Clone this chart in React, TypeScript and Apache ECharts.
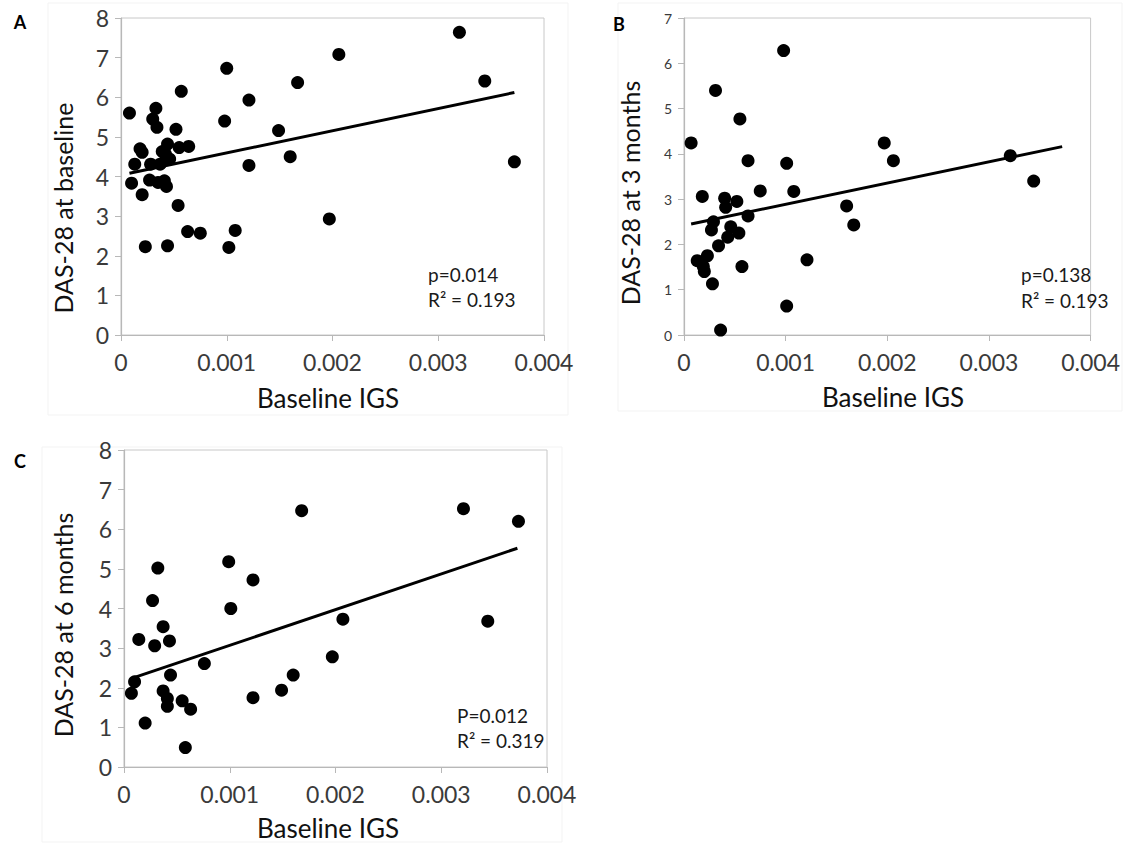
import React, { useEffect, useRef } from "react";
import * as echarts from "echarts";

// Panel A: DAS-28 at baseline vs baseline IGS
const igsA = [0.00008, 0.0001, 0.00013, 0.00018, 0.0002, 0.0002, 0.00023, 0.00027, 0.00028, 0.0003, 0.00033, 0.00034, 0.00035, 0.00041, 0.00043, 0.00037, 0.00039, 0.00044, 0.00042, 0.00046, 0.00052, 0.00044, 0.00054, 0.00055, 0.00057, 0.00064, 0.00063, 0.00075, 0.00098, 0.001, 0.00102, 0.00108, 0.00121, 0.00121, 0.00149, 0.0016, 0.00167, 0.00197, 0.00206, 0.0032, 0.00344, 0.00372];
const dasA = [5.6, 3.83, 4.31, 4.7, 4.61, 3.54, 2.23, 3.91, 4.31, 5.45, 5.72, 5.24, 3.85, 3.89, 3.75, 4.31, 4.63, 4.82, 4.57, 4.44, 5.19, 2.25, 3.27, 4.73, 6.15, 4.76, 2.61, 2.57, 5.4, 6.73, 2.21, 2.64, 5.93, 4.28, 5.16, 4.5, 6.37, 2.93, 7.08, 7.64, 6.41, 4.37];
const trendA = [[0.00008, 4.08], [0.00372, 6.12]];

// Panel B: DAS-28 at 3 months
const igsB = [0.00007, 0.00013, 0.00018, 0.00019, 0.0002, 0.00023, 0.00028, 0.00027, 0.00029, 0.00031, 0.00034, 0.00036, 0.0004, 0.00041, 0.00043, 0.00046, 0.00052, 0.00054, 0.00055, 0.00057, 0.00063, 0.00063, 0.00075, 0.00098, 0.00101, 0.00101, 0.00108, 0.00121, 0.0016, 0.00167, 0.00197, 0.00206, 0.00321, 0.00344];
const dasB = [4.24, 1.64, 3.06, 1.51, 1.4, 1.75, 1.13, 2.32, 2.5, 5.4, 1.97, 0.11, 3.02, 2.82, 2.16, 2.39, 2.95, 2.25, 4.77, 1.51, 2.63, 3.85, 3.18, 6.28, 3.79, 0.64, 3.17, 1.66, 2.85, 2.43, 4.24, 3.85, 3.96, 3.4];
const trendB = [[0.00007, 2.45], [0.00372, 4.16]];

// Panel C: DAS-28 at 6 months
const igsC = [0.00007, 0.0001, 0.00014, 0.0002, 0.00027, 0.00029, 0.00032, 0.00037, 0.00037, 0.00041, 0.00041, 0.00043, 0.00044, 0.00055, 0.00058, 0.00063, 0.00076, 0.00099, 0.00101, 0.00122, 0.00122, 0.00149, 0.0016, 0.00168, 0.00197, 0.00207, 0.00321, 0.00344, 0.00373];
const dasC = [1.86, 2.15, 3.22, 1.11, 4.2, 3.06, 5.02, 3.54, 1.92, 1.73, 1.53, 3.18, 2.32, 1.67, 0.49, 1.46, 2.61, 5.18, 4.0, 1.75, 4.72, 1.94, 2.32, 6.47, 2.78, 3.73, 6.52, 3.68, 6.2];
const trendC = [[0.0001, 2.26], [0.00372, 5.52]];

const panelLetters = ["A", "B", "C"];
const yTitles = ["DAS-28 at baseline", "DAS-28 at 3 months", "DAS-28 at 6 months"];
const xTitle = "Baseline IGS";
const pTexts = ["p=0.014", "p=0.138", "P=0.012"];
const r2Texts = ["R² = 0.193", "R² = 0.193", "R² = 0.319"];
const yMax = [8, 7, 8];

const FONT = "Lato, 'Noto Sans', sans-serif";
const AXIS_COLOR = "#b8b8b8";
const LABEL_COLOR = "#3a3a3a";

const grids = [
  { left: 121, top: 18, width: 423, height: 317 },
  { left: 684, top: 18, width: 422, height: 317 },
  { left: 124, top: 450, width: 423, height: 317 },
];
const xLabelSize = [23, 23, 23];
const yLabelSize = [23, 14, 23];

function zip(xs: number[], ys: number[]) {
  return xs.map((x, i) => [x, ys[i]]);
}

export default function App() {
  const ref = useRef<HTMLDivElement>(null);
  useEffect(() => {
    const chart = echarts.init(ref.current!, null, { renderer: "svg" });
    const scatterData = [zip(igsA, dasA), zip(igsB, dasB), zip(igsC, dasC)];
    const trends = [trendA, trendB, trendC];

    const text = (x: number, y: number, t: string, font: string, extra: any = {}) => ({
      type: "text",
      x,
      y,
      ...extra,
      style: { text: t, font, fill: "#111", textAlign: "center", textVerticalAlign: "middle", ...(extra.style || {}) },
    });

    const option: any = {
      animation: false,
      backgroundColor: "#ffffff",
      grid: grids.map((g) => ({ ...g, show: true, borderColor: "#c8c8c8", borderWidth: 1, backgroundColor: "transparent" })),
      xAxis: grids.map((_, i) => ({
        type: "value",
        gridIndex: i,
        min: 0,
        max: 0.004,
        interval: 0.001,
        axisLine: { show: true, lineStyle: { color: AXIS_COLOR, width: 1.2 } },
        axisTick: { show: true, length: 6, lineStyle: { color: AXIS_COLOR } },
        splitLine: { show: false },
        axisLabel: {
          fontSize: xLabelSize[i],
          fontFamily: FONT,
          color: LABEL_COLOR,
          margin: 15,
          formatter: (v: number) => (v === 0 ? "0" : v.toFixed(3)),
        },
      })),
      yAxis: grids.map((_, i) => ({
        type: "value",
        gridIndex: i,
        min: 0,
        max: yMax[i],
        interval: 1,
        axisLine: { show: true, lineStyle: { color: AXIS_COLOR, width: 1.2 } },
        axisTick: { show: true, length: 6, lineStyle: { color: AXIS_COLOR } },
        splitLine: { show: false },
        axisLabel: {
          fontSize: yLabelSize[i],
          fontFamily: FONT,
          color: LABEL_COLOR,
          margin: 12,
        },
      })),
      series: [
        ...scatterData.map((d, i) => ({
          type: "scatter",
          xAxisIndex: i,
          yAxisIndex: i,
          data: d,
          symbolSize: 13,
          itemStyle: { color: "#000000", opacity: 1 },
          silent: true,
        })),
        ...trends.map((t, i) => ({
          type: "line",
          xAxisIndex: i,
          yAxisIndex: i,
          data: t,
          symbol: "none",
          lineStyle: { color: "#000000", width: 3 },
          silent: true,
          z: 3,
        })),
      ],
      graphic: [
        // faint panel frames
        { type: "rect", shape: { x: 48, y: 3, width: 520, height: 412 }, style: { fill: "none", stroke: "#f3f3f3", lineWidth: 1 }, z: -1 },
        { type: "rect", shape: { x: 618, y: 3, width: 504, height: 408 }, style: { fill: "none", stroke: "#f3f3f3", lineWidth: 1 }, z: -1 },
        { type: "rect", shape: { x: 42, y: 447, width: 520, height: 395 }, style: { fill: "none", stroke: "#f3f3f3", lineWidth: 1 }, z: -1 },
        // panel letters
        text(20, 22, panelLetters[0], `bold 18px ${FONT}`, { style: { fill: "#000" } }),
        text(619, 24, panelLetters[1], `bold 18px ${FONT}`, { style: { fill: "#000" } }),
        text(20, 461, panelLetters[2], `bold 18px ${FONT}`, { style: { fill: "#000" } }),
        // y titles
        text(63, 208, yTitles[0], `25px ${FONT}`, { rotation: Math.PI / 2 }),
        text(630, 193, yTitles[1], `25px ${FONT}`, { rotation: Math.PI / 2 }),
        text(63, 625, yTitles[2], `25px ${FONT}`, { rotation: Math.PI / 2 }),
        // x titles
        text(328, 398, xTitle, `26px ${FONT}`),
        text(893, 397, xTitle, `26px ${FONT}`),
        text(328, 828, xTitle, `26px ${FONT}`),
        // stats annotations
        text(428, 274, pTexts[0], `19px ${FONT}`, { style: { textAlign: "left", fill: "#1a1a1a" } }),
        text(428, 299, r2Texts[0], `19px ${FONT}`, { style: { textAlign: "left", fill: "#1a1a1a" } }),
        text(1021, 274, pTexts[1], `19px ${FONT}`, { style: { textAlign: "left", fill: "#1a1a1a" } }),
        text(1021, 300, r2Texts[1], `19px ${FONT}`, { style: { textAlign: "left", fill: "#1a1a1a" } }),
        text(457, 715, pTexts[2], `19px ${FONT}`, { style: { textAlign: "left", fill: "#1a1a1a" } }),
        text(457, 740, r2Texts[2], `19px ${FONT}`, { style: { textAlign: "left", fill: "#1a1a1a" } }),
      ],
    };
    chart.setOption(option);
    return () => chart.dispose();
  }, []);
  return (
    <div
      ref={ref}
      style={{ position: "fixed", left: 0, top: 0, width: 1123, height: 843, background: "#ffffff" }}
    />
  );
}
